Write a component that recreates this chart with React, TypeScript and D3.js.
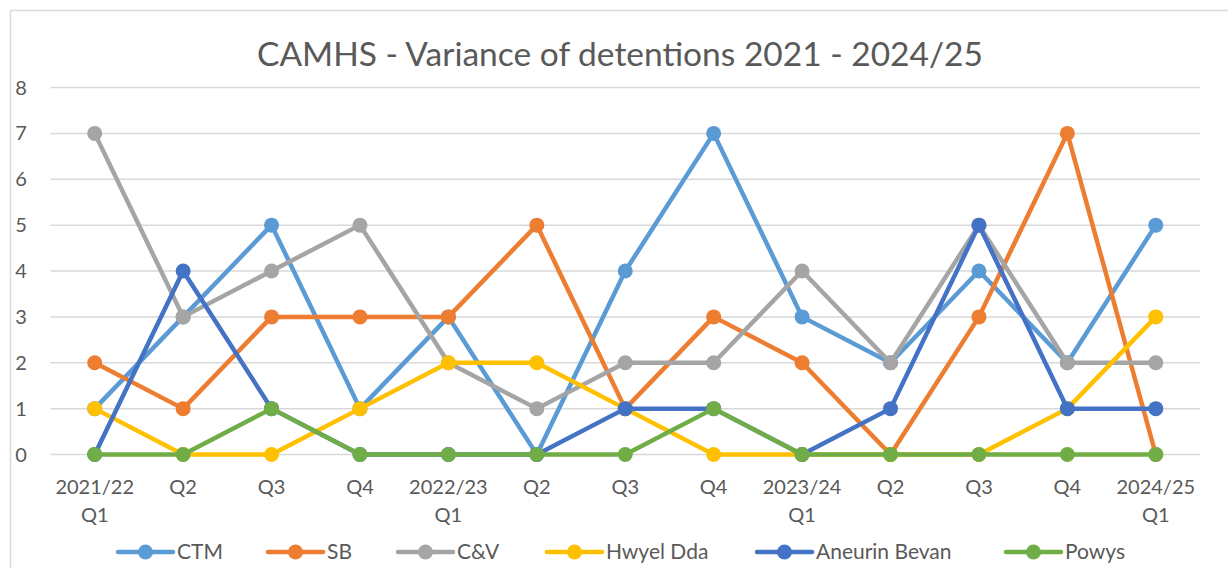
import * as d3 from 'd3';

// quarters along the x axis (two-line labels split on \n)
const quarters = [
  '2021/22\nQ1', 'Q2', 'Q3', 'Q4',
  '2022/23\nQ1', 'Q2', 'Q3', 'Q4',
  '2023/24\nQ1', 'Q2', 'Q3', 'Q4',
  '2024/25\nQ1',
];

const seriesNames = ['CTM', 'SB', 'C&V', 'Hwyel Dda', 'Aneurin Bevan', 'Powys'];
const seriesColors = ['#5B9BD5', '#ED7D31', '#A5A5A5', '#FFC000', '#4472C4', '#70AD47'];

const ctm = [1, 3, 5, 1, 3, 0, 4, 7, 3, 2, 4, 2, 5];
const sb = [2, 1, 3, 3, 3, 5, 1, 3, 2, 0, 3, 7, 0];
const cv = [7, 3, 4, 5, 2, 1, 2, 2, 4, 2, 5, 2, 2];
const hwyelDda = [1, 0, 0, 1, 2, 2, 1, 0, 0, 0, 0, 1, 3];
const aneurinBevan = [0, 4, 1, 0, 0, 0, 1, 1, 0, 1, 5, 1, 1];
const powys = [0, 0, 1, 0, 0, 0, 0, 1, 0, 0, 0, 0, 0];

const yTicks = [0, 1, 2, 3, 4, 5, 6, 7, 8];

const title = 'CAMHS - Variance of detentions 2021 - 2024/25';

const W = 1228;
const H = 568;
const font = 'Lato, "Open Sans", sans-serif';
const textColor = '#595959';

export default function App() {
  const allSeries = [ctm, sb, cv, hwyelDda, aneurinBevan, powys];

  const x = d3.scaleBand<string>()
    .domain(quarters.map((_, i) => String(i)))
    .range([50.5, 1200]);
  const cx = (i: number) => (x(String(i)) ?? 0) + x.bandwidth() / 2;

  const y = d3.scaleLinear().domain([0, 8]).range([454.5, 87.5]);

  const line = d3.line<number>()
    .x((_, i) => cx(i))
    .y(d => y(d));

  // legend layout: line start for each entry
  const legendX = [118, 268, 398, 547, 757, 1006];
  const legendY = 552;

  return (
    <svg width={W} height={H} style={{ position: 'absolute', left: 0, top: 0 }} fontFamily={font}>
      <rect x={0} y={0} width={W} height={H} fill="#fff" />
      <rect x={10.5} y={10.5} width={W + 20} height={H + 20} fill="none" stroke="#D9D9D9" strokeWidth={1.5} />

      <text x={620} y={66} textAnchor="middle" fontSize={33.5} fill={textColor}>{title}</text>

      {yTicks.map(t => (
        <g key={t}>
          <line x1={50.5} x2={1200} y1={y(t)} y2={y(t)} stroke="#D9D9D9" strokeWidth={1.5} />
          <text x={21} y={y(t) + 7} textAnchor="middle" fontSize={20} fill={textColor}>{t}</text>
        </g>
      ))}

      {quarters.map((q, i) => (
        <text key={i} x={cx(i)} y={494} textAnchor="middle" fontSize={20} fill={textColor}>
          {q.split('\n').map((part, j) => (
            <tspan key={j} x={cx(i)} dy={j === 0 ? 0 : 28}>{part}</tspan>
          ))}
        </text>
      ))}

      {allSeries.map((vals, s) => (
        <g key={seriesNames[s]}>
          <path d={line(vals) ?? ''} fill="none" stroke={seriesColors[s]} strokeWidth={4.5} strokeLinejoin="round" strokeLinecap="round" />
          {vals.map((v, i) => (
            <circle key={i} cx={cx(i)} cy={y(v)} r={7.5} fill={seriesColors[s]} />
          ))}
        </g>
      ))}

      {seriesNames.map((name, s) => (
        <g key={name}>
          <line x1={legendX[s]} x2={legendX[s] + 55} y1={legendY} y2={legendY} stroke={seriesColors[s]} strokeWidth={4.5} strokeLinecap="round" />
          <circle cx={legendX[s] + 27.5} cy={legendY} r={7.5} fill={seriesColors[s]} />
          <text x={legendX[s] + 59} y={legendY + 7} fontSize={21} fill={textColor}>{name}</text>
        </g>
      ))}
    </svg>
  );
}
